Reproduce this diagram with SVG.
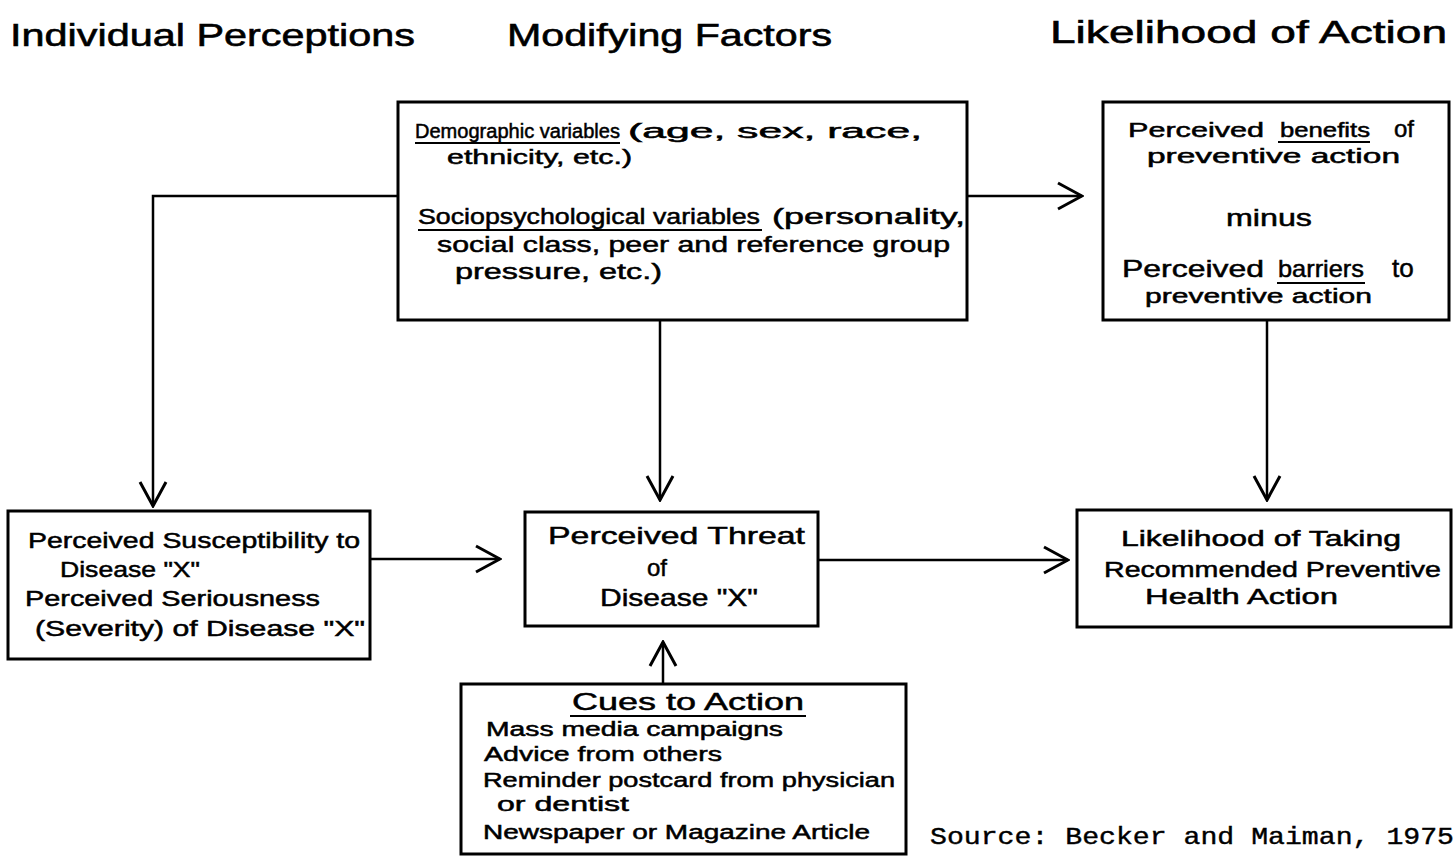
<svg xmlns="http://www.w3.org/2000/svg" width="1454" height="856" viewBox="0 0 1454 856">
<defs>
<style>
.box{fill:#fff;stroke:#000;stroke-width:3}
.t{font-family:"Liberation Sans","Open Sans",sans-serif;font-size:22px;fill:#000;stroke:#000;stroke-width:0.5}
.s{font-size:20px}
.h{font-family:"Liberation Sans","Open Sans",sans-serif;font-size:32px;fill:#000;stroke:#000;stroke-width:0.6}
.m{font-family:"Liberation Mono","DejaVu Sans Mono",monospace;font-size:24px;fill:#000;stroke:#000;stroke-width:0.4}
.c{fill:none;stroke:#000;stroke-width:2.5}
.u{stroke:#000;stroke-width:2}
</style>
<marker id="ah" viewBox="0 0 30 30" refX="28" refY="15" markerWidth="30" markerHeight="30" markerUnits="userSpaceOnUse" orient="auto">
<path d="M4,2 L28,15 L4,28" fill="none" stroke="#000" stroke-width="3"/>
</marker>
</defs>
<rect width="1454" height="856" fill="#fff"/>
<g id="headers">
<text class="h" x="10" y="46" textLength="405" lengthAdjust="spacingAndGlyphs">Individual Perceptions</text>
<text class="h" x="507" y="46" textLength="325" lengthAdjust="spacingAndGlyphs">Modifying Factors</text>
<text class="h" x="1050" y="43" textLength="397" lengthAdjust="spacingAndGlyphs">Likelihood of Action</text>
</g>
<g id="connectors">
<path class="c" d="M398,196 H153 V506" marker-end="url(#ah)"/>
<path class="c" d="M967,196 H1082" marker-end="url(#ah)"/>
<path class="c" d="M660,320 V500" marker-end="url(#ah)"/>
<path class="c" d="M1267,320 V500" marker-end="url(#ah)"/>
<path class="c" d="M370,559 H500" marker-end="url(#ah)"/>
<path class="c" d="M818,560 H1068" marker-end="url(#ah)"/>
<path class="c" d="M663,684 V642" marker-end="url(#ah)"/>
</g>
<g id="modifying">
<rect class="box" x="398" y="102" width="569" height="218"/>
<text class="t s" x="415" y="138" textLength="205" lengthAdjust="spacingAndGlyphs">Demographic variables</text>
<text class="t s" x="628" y="138" textLength="294" lengthAdjust="spacingAndGlyphs">(age, sex, race,</text>
<line class="u" x1="415" y1="143" x2="620" y2="143"/>
<text class="t s" x="447" y="164" textLength="185" lengthAdjust="spacingAndGlyphs">ethnicity, etc.)</text>
<text class="t" x="418" y="224" textLength="342" lengthAdjust="spacingAndGlyphs">Sociopsychological variables</text>
<text class="t" x="772" y="224" textLength="193" lengthAdjust="spacingAndGlyphs">(personality,</text>
<line class="u" x1="418" y1="230" x2="762" y2="230"/>
<text class="t" x="437" y="252" textLength="513" lengthAdjust="spacingAndGlyphs">social class, peer and reference group</text>
<text class="t" x="455" y="279" textLength="207" lengthAdjust="spacingAndGlyphs">pressure, etc.)</text>
</g>
<g id="benefits">
<rect class="box" x="1103" y="102" width="346" height="218"/>
<text class="t s" x="1128" y="137" textLength="136" lengthAdjust="spacingAndGlyphs">Perceived</text>
<text class="t s" x="1280" y="137" textLength="90" lengthAdjust="spacingAndGlyphs">benefits</text>
<text class="t" x="1394" y="137" style="font-size:24px">of</text>
<line class="u" x1="1278" y1="142" x2="1370" y2="142"/>
<text class="t s" x="1147" y="163" textLength="253" lengthAdjust="spacingAndGlyphs">preventive action</text>
<text class="t" x="1226" y="226" textLength="86" lengthAdjust="spacingAndGlyphs" style="font-size:24px">minus</text>
<text class="t" x="1122" y="277" textLength="142" lengthAdjust="spacingAndGlyphs" style="font-size:24px">Perceived</text>
<text class="t" x="1278" y="277" textLength="86" lengthAdjust="spacingAndGlyphs" style="font-size:24px">barriers</text>
<text class="t" x="1392" y="277" style="font-size:26px">to</text>
<line class="u" x1="1277" y1="283" x2="1365" y2="283"/>
<text class="t s" x="1145" y="303" textLength="227" lengthAdjust="spacingAndGlyphs">preventive action</text>
</g>
<g id="susceptibility">
<rect class="box" x="8" y="511" width="362" height="148"/>
<text class="t" x="28" y="548" textLength="332" lengthAdjust="spacingAndGlyphs">Perceived Susceptibility to</text>
<text class="t" x="60" y="577" textLength="140" lengthAdjust="spacingAndGlyphs">Disease "X"</text>
<text class="t" x="25" y="606" textLength="295" lengthAdjust="spacingAndGlyphs">Perceived Seriousness</text>
<text class="t" x="35" y="636" textLength="330" lengthAdjust="spacingAndGlyphs">(Severity) of Disease "X"</text>
</g>
<g id="threat">
<rect class="box" x="525" y="512" width="293" height="114"/>
<text class="t" x="548" y="544" textLength="257" lengthAdjust="spacingAndGlyphs" style="font-size:24px">Perceived Threat</text>
<text class="t" x="657" y="576" text-anchor="middle" style="font-size:24px">of</text>
<text class="t" x="600" y="606" textLength="158" lengthAdjust="spacingAndGlyphs" style="font-size:24px">Disease "X"</text>
</g>
<g id="likelihood">
<rect class="box" x="1077" y="510" width="374" height="117"/>
<text class="t" x="1121" y="546" textLength="280" lengthAdjust="spacingAndGlyphs">Likelihood of Taking</text>
<text class="t" x="1104" y="577" textLength="337" lengthAdjust="spacingAndGlyphs">Recommended Preventive</text>
<text class="t" x="1145" y="604" textLength="193" lengthAdjust="spacingAndGlyphs">Health Action</text>
</g>
<g id="cues">
<rect class="box" x="461" y="684" width="445" height="170"/>
<text class="t" x="572" y="710" textLength="232" lengthAdjust="spacingAndGlyphs" style="font-size:24px">Cues to Action</text>
<line class="u" x1="570" y1="716" x2="806" y2="716"/>
<text class="t s" x="486" y="736" textLength="297" lengthAdjust="spacingAndGlyphs">Mass media campaigns</text>
<text class="t s" x="484" y="761" textLength="238" lengthAdjust="spacingAndGlyphs">Advice from others</text>
<text class="t s" x="483" y="787" textLength="412" lengthAdjust="spacingAndGlyphs">Reminder postcard from physician</text>
<text class="t s" x="497" y="811" textLength="132" lengthAdjust="spacingAndGlyphs">or dentist</text>
<text class="t s" x="483" y="839" textLength="387" lengthAdjust="spacingAndGlyphs">Newspaper or Magazine Article</text>
</g>
<g id="source">
<text class="m" x="930" y="844" textLength="524" lengthAdjust="spacingAndGlyphs">Source:  Becker and Maiman, 1975</text>
</g>
</svg>
